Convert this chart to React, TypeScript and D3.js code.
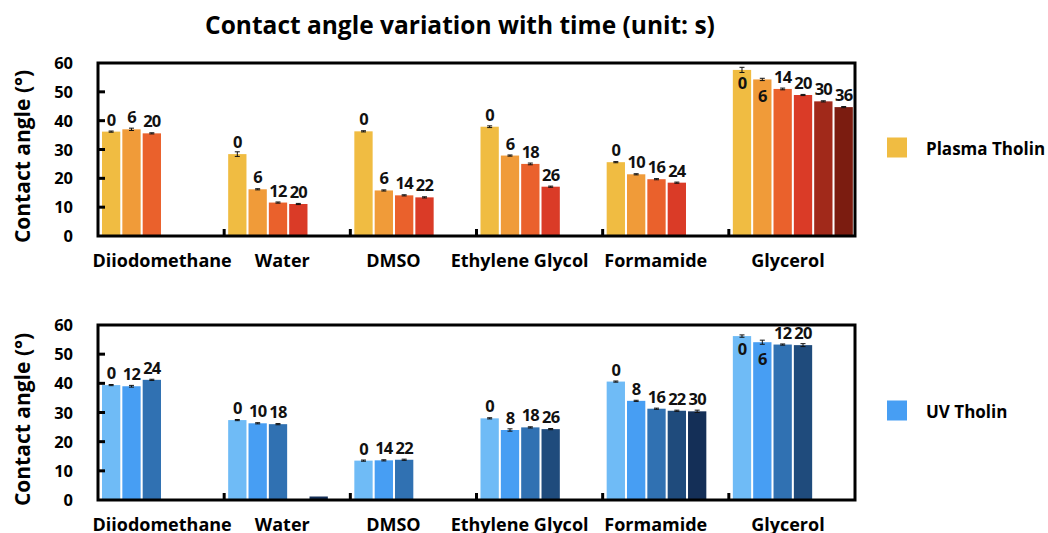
import { useEffect, useRef } from "react";
import * as d3 from "d3";

// solvents along the x axis
const solvents = ["Diiodomethane", "Water", "DMSO", "Ethylene Glycol", "Formamide", "Glycerol"];

// plasma tholin: time labels (s), contact angles (deg), error bars
const plasmaTimes = [
  [0, 6, 20],
  [0, 6, 12, 20],
  [0, 6, 14, 22],
  [0, 6, 18, 26],
  [0, 10, 16, 24],
  [0, 6, 14, 20, 30, 36],
];
const plasmaAngles = [
  [36.2, 37.0, 35.6],
  [28.4, 16.2, 11.6, 11.1],
  [36.3, 15.8, 14.1, 13.4],
  [37.9, 27.9, 25.0, 17.1],
  [25.6, 21.4, 19.7, 18.5],
  [57.6, 54.3, 51.0, 48.9, 46.7, 44.7],
];
const plasmaErrors = [
  [0.2, 0.4, 0.2],
  [0.8, 0.2, 0.2, 0.2],
  [0.2, 0.2, 0.2, 0.2],
  [0.3, 0.2, 0.3, 0.2],
  [0.2, 0.2, 0.2, 0.2],
  [0.9, 0.4, 0.3, 0.2, 0.2, 0.2],
];

// UV tholin (the water set has an unlabeled stub in slot 4)
const uvTimes = [
  [0, 12, 24],
  [0, 10, 18, null, null],
  [0, 14, 22],
  [0, 8, 18, 26],
  [0, 8, 16, 22, 30],
  [0, 6, 12, 20],
];
const uvAngles = [
  [39.4, 39.0, 41.2],
  [27.4, 26.3, 26.0, null, 1.2],
  [13.5, 13.6, 13.8],
  [28.0, 24.0, 24.9, 24.3],
  [40.6, 34.0, 31.3, 30.6, 30.4],
  [56.2, 54.1, 53.3, 53.1],
];
const uvErrors = [
  [0.2, 0.3, 0.2],
  [0.2, 0.2, 0.2, null, 0],
  [0.2, 0.2, 0.2],
  [0.2, 0.4, 0.2, 0.2],
  [0.2, 0.2, 0.2, 0.2, 0.4],
  [0.4, 0.7, 0.2, 0.5],
];

const yTicks = [0, 10, 20, 30, 40, 50, 60];

const plasmaColors = ["#f0bc42", "#f09b39", "#ea612c", "#da3b27", "#a1291a", "#7b1c10"];
const uvColors = ["#6fbbf6", "#479ef3", "#3071b2", "#1f4b7c", "#142f57", "#0f2342"];

// hand nudges for the category captions (they are not exactly centred in the source)
const captionNudge = [1, -5, -20, -20, -10, -4];

const FONT = "'Open Sans', sans-serif";

type Panel = {
  top: number;
  height: number;
  times: (number | null)[][];
  angles: (number | null)[][];
  errors: (number | null)[][];
  colors: string[];
  legend: string;
};

const App = () => {
  const ref = useRef<SVGSVGElement | null>(null);

  useEffect(() => {
    if (!ref.current) return;
    const svg = d3.select(ref.current).html("");
    const left = 98;
    const right = 855;

    svg.append("text")
      .attr("x", 460)
      .attr("y", 34)
      .attr("text-anchor", "middle")
      .style("font-family", FONT)
      .style("font-weight", 700)
      .style("font-size", "24.5px")
      .text("Contact angle variation with time (unit: s)");

    const x = d3.scaleBand<string>().domain(solvents).range([left, right]);
    const slot = d3.scaleBand<number>().domain(d3.range(6)).range([4, 124]).paddingInner(0.1);

    const panels: Panel[] = [
      { top: 63, height: 173, times: plasmaTimes, angles: plasmaAngles, errors: plasmaErrors, colors: plasmaColors, legend: "Plasma Tholin" },
      { top: 325, height: 175, times: uvTimes, angles: uvAngles, errors: uvErrors, colors: uvColors, legend: "UV Tholin" },
    ];

    panels.forEach((p) => {
      const bottom = p.top + p.height;
      const y = d3.scaleLinear().domain([0, 60]).range([bottom, p.top]);
      const g = svg.append("g");

      // bars
      solvents.forEach((s, i) => {
        p.angles[i].forEach((v, k) => {
          if (v == null) return;
          const bx = (x(s) ?? 0) + (slot(k) ?? 0);
          const bw = slot.bandwidth();
          g.append("rect")
            .attr("x", bx)
            .attr("y", y(v))
            .attr("width", bw)
            .attr("height", bottom - y(v))
            .attr("fill", p.colors[k]);

          const e = p.errors[i][k];
          if (e) {
            const cx = bx + bw / 2;
            g.append("line")
              .attr("x1", cx).attr("x2", cx)
              .attr("y1", y(v - e)).attr("y2", y(v + e))
              .attr("stroke", "#111").attr("stroke-width", 1);
            [v - e, v + e].forEach((ev) => {
              g.append("line")
                .attr("x1", cx - 2.5).attr("x2", cx + 2.5)
                .attr("y1", y(ev)).attr("y2", y(ev))
                .attr("stroke", "#111").attr("stroke-width", 1);
            });
          }

          const t = p.times[i][k];
          if (t == null) return;
          // glycerol first two labels sit inside the bar
          const inside = s === "Glycerol" && k < 2;
          g.append("text")
            .attr("x", bx + bw / 2)
            .attr("y", inside ? y(v) + 19 + 4 * k : y(v) - 6)
            .attr("text-anchor", "middle")
            .style("font-family", FONT)
            .style("font-weight", 700)
            .style("font-size", "16.5px")
            .style("letter-spacing", "-0.8px")
            .attr("fill", "#111")
            .text(String(t));
        });
      });

      // left axis ticks (inward) and labels
      yTicks.forEach((t) => {
        if (t > 0 && t < 60) {
          g.append("line")
            .attr("x1", left).attr("x2", left + 7)
            .attr("y1", y(t)).attr("y2", y(t))
            .attr("stroke", "#000").attr("stroke-width", 3);
        }
        g.append("text")
          .attr("x", 73)
          .attr("y", y(t) + 6)
          .attr("text-anchor", "end")
          .style("font-family", FONT)
          .style("font-weight", 700)
          .style("font-size", "16.5px")
          .text(String(t));
      });

      // category boundary ticks on the bottom axis
      solvents.slice(1).forEach((s) => {
        const bx = x(s) ?? 0;
        g.append("line")
          .attr("x1", bx).attr("x2", bx)
          .attr("y1", bottom).attr("y2", bottom - 7)
          .attr("stroke", "#000").attr("stroke-width", 3);
      });

      // frame
      g.append("rect")
        .attr("x", left)
        .attr("y", p.top)
        .attr("width", right - left)
        .attr("height", p.height)
        .attr("fill", "none")
        .attr("stroke", "#000")
        .attr("stroke-width", 3);

      // category captions
      solvents.forEach((s, i) => {
        g.append("text")
          .attr("x", (x(s) ?? 0) + x.bandwidth() / 2 + captionNudge[i])
          .attr("y", bottom + 31)
          .attr("text-anchor", "middle")
          .style("font-family", FONT)
          .style("font-weight", 700)
          .style("font-size", "18px")
          .text(s);
      });

      // y axis title
      g.append("text")
        .attr("transform", `translate(30,${p.top + p.height / 2 + 7}) rotate(-90)`)
        .attr("text-anchor", "middle")
        .style("font-family", FONT)
        .style("font-weight", 700)
        .style("font-size", "21px")
        .text("Contact angle (°)");

      // legend
      const ly = p.top + p.height / 2 - 1;
      g.append("rect")
        .attr("x", 887)
        .attr("y", ly - 11)
        .attr("width", 20)
        .attr("height", 20)
        .attr("fill", p.colors[p.legend === "UV Tholin" ? 1 : 0]);
      g.append("text")
        .attr("x", 926)
        .attr("y", ly + 6)
        .style("font-family", FONT)
        .style("font-weight", 700)
        .style("font-size", "17px")
        .text(p.legend);
    });
  }, []);

  return (
    <svg
      ref={ref}
      width={1048}
      height={533}
      style={{ position: "absolute", left: 0, top: 0, background: "#fff" }}
    />
  );
};

export default App;
